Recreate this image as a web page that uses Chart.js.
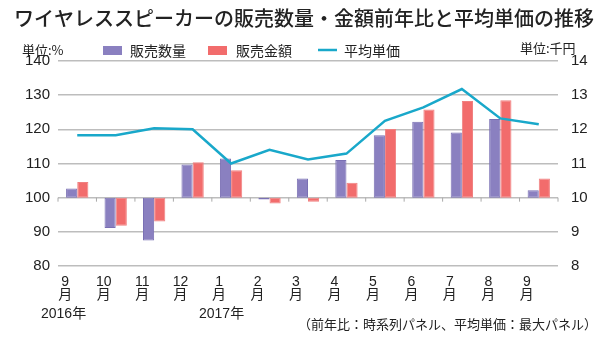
<!DOCTYPE html>
<html>
<head>
<meta charset="utf-8">
<script src="https://cdn.jsdelivr.net/npm/chart.js@4"></script>
<style>
  html, body { margin: 0; padding: 0; background: #fff; }
  #wrap { width: 600px; height: 347px; }
</style>
</head>
<body>
<div id="wrap"><canvas id="c" width="600" height="347"></canvas></div>
<script>
const months = [["9", "月"], ["10", "月"], ["11", "月"], ["12", "月"], ["1", "月"], ["2", "月"], ["3", "月"],
                ["4", "月"], ["5", "月"], ["6", "月"], ["7", "月"], ["8", "月"], ["9", "月"]];
const qtyRatio = [102.7, 91.1, 87.5, 109.7, 111.5, 99.5, 105.6, 111.0, 118.3, 122.2, 119.1, 123.0, 102.2];
const amountRatio = [104.6, 91.8, 93.0, 110.4, 108.0, 98.3, 98.8, 104.4, 120.1, 125.8, 128.3, 128.5, 105.6];
const avgPrice = [11.83, 11.83, 12.03, 12.0, 11.0, 11.4, 11.12, 11.29, 12.25, 12.64, 13.18, 12.32, 12.15];
const baseLine = 100;

const JP = '"Liberation Sans", "Noto Sans CJK JP", sans-serif';
const purple = "#8a80c0";
const red = "#f26c6c";
const blue = "#19a8ca";

// extra texts: title, legend, units, years, note
const decor = {
    id: "decor",
    afterDraw(chart) {
        const ctx = chart.ctx;
        const x = chart.scales.x;
        const y = chart.scales.y;
        ctx.save();
        // small ticks on the 100 line
        const yb = y.getPixelForValue(baseLine);
        ctx.strokeStyle = "#aaa";
        ctx.lineWidth = 1;
        for (let i = 0; i <= months.length; i++) {
            const px = x.getPixelForValue(i - 0.5);
            ctx.beginPath();
            ctx.moveTo(px, yb);
            ctx.lineTo(px, yb + 4);
            ctx.stroke();
        }

        ctx.fillStyle = "#222";
        ctx.textBaseline = "middle";
        ctx.font = '500 20px "Noto Sans CJK JP"';
        ctx.fillText("ワイヤレススピーカーの販売数量・金額前年比と平均単価の推移", 14, 18);

        ctx.font = '13px "Noto Sans CJK JP"';
        ctx.fillText("単位:%", 22, 50);
        ctx.fillText("単位:千円", 520, 48);

        // legend
        ctx.fillStyle = purple;
        ctx.fillRect(103, 46, 19, 9);
        ctx.fillStyle = red;
        ctx.fillRect(208, 46, 19, 9);
        ctx.strokeStyle = blue;
        ctx.lineWidth = 2.5;
        ctx.beginPath();
        ctx.moveTo(318, 50);
        ctx.lineTo(337, 50);
        ctx.stroke();
        ctx.fillStyle = "#222";
        ctx.font = '14px "Noto Sans CJK JP"';
        ctx.fillText("販売数量", 130, 51);
        ctx.fillText("販売金額", 236, 51);
        ctx.fillText("平均単価", 344, 51);

        ctx.font = '14px ' + JP;
        ctx.fillText("2016年", 41, 314);
        ctx.fillText("2017年", 199, 314);
        ctx.font = '13px "Noto Sans CJK JP"';
        ctx.fillText("（前年比：時系列パネル、平均単価：最大パネル）", 298, 324);
        ctx.restore();
    }
};

new Chart(document.getElementById("c"), {
    data: {
        labels: months,
        datasets: [
            {
                type: "line",
                label: "平均単価",
                data: avgPrice,
                yAxisID: "y2",
                borderColor: blue,
                borderWidth: 2.5,
                pointRadius: 0,
                tension: 0,
                order: 0
            },
            {
                type: "bar",
                label: "販売数量",
                data: qtyRatio.map(v => [baseLine, v]),
                backgroundColor: purple,
                borderColor: "#7a70b4",
                borderWidth: 1,
                borderSkipped: false,
                categoryPercentage: 0.58,
                barPercentage: 1,
                order: 1
            },
            {
                type: "bar",
                label: "販売金額",
                data: amountRatio.map(v => [baseLine, v]),
                backgroundColor: red,
                borderColor: "#f08080",
                borderWidth: 1,
                borderSkipped: false,
                categoryPercentage: 0.58,
                barPercentage: 1,
                order: 1
            }
        ]
    },
    options: {
        responsive: false,
        animation: false,
        layout: { padding: { top: 61, left: 0, right: 0, bottom: 0 } },
        plugins: {
            legend: { display: false },
            tooltip: { enabled: false }
        },
        scales: {
            x: {
                grid: { display: false },
                border: { display: false },
                ticks: {
                    color: "#222",
                    font: { size: 14, family: JP, lineHeight: 0.95 },
                    padding: 1,
                    labelOffset: -12,
                    maxRotation: 0,
                    autoSkip: false
                },
                afterFit(s) { s.height = 81; }
            },
            y: {
                position: "left",
                min: 80,
                max: 140,
                ticks: { stepSize: 10, color: "#222", font: { size: 15, family: JP }, padding: 8 },
                grid: { color: "#bdbdbd", lineWidth: 1.5, drawTicks: false },
                border: { display: false },
                afterFit(s) { s.width = 58; }
            },
            y2: {
                position: "right",
                min: 8,
                max: 14,
                ticks: { stepSize: 1, color: "#222", font: { size: 15, family: JP }, padding: 5 },
                grid: { display: false, drawTicks: true },
                border: { display: false },
                afterFit(s) { s.width = 42; }
            }
        }
    },
    plugins: [decor]
});
</script>
</body>
</html>
